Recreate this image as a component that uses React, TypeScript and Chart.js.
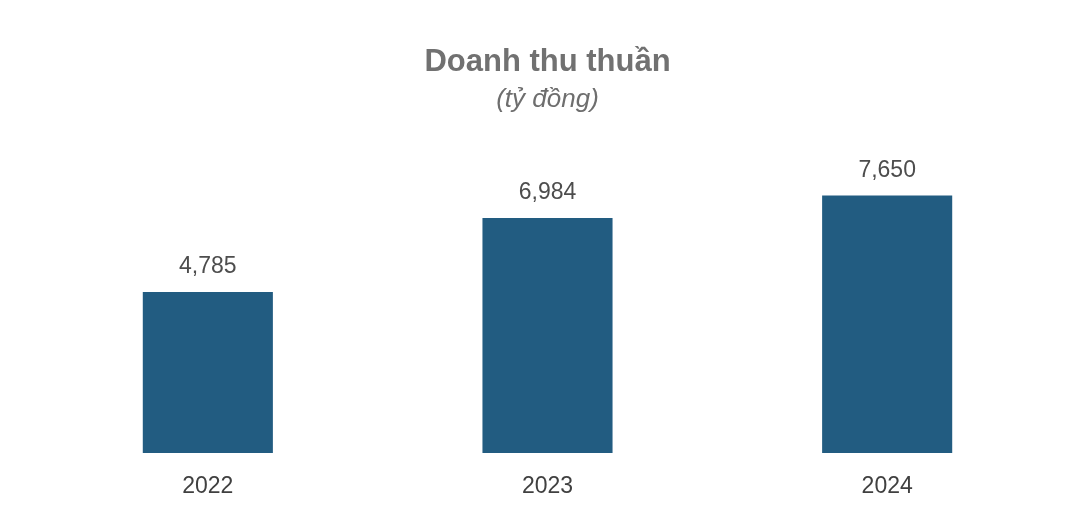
import React, { useEffect, useRef } from "react";
import { Chart, registerables } from "chart.js";

Chart.register(...registerables);

const categories = ["2022", "2023", "2024"];
const revenue = [4785, 6984, 7650];
const titleText = "Doanh thu thuần";
const subtitleText = "(tỷ đồng)";

const FONT = "'Liberation Sans', Arial, sans-serif";

const valueLabels = {
  id: "valueLabels",
  afterDatasetsDraw(chart: any) {
    const ctx = chart.ctx;
    const meta = chart.getDatasetMeta(0);
    ctx.save();
    ctx.font = `23px ${FONT}`;
    ctx.fillStyle = "#4d4d4d";
    ctx.textAlign = "center";
    ctx.textBaseline = "alphabetic";
    meta.data.forEach((bar: any, i: number) => {
      const v = chart.data.datasets[0].data[i] as number;
      ctx.fillText(v.toLocaleString("en-US"), bar.x, bar.y - 19);
    });
    ctx.restore();
  },
};

export default function App() {
  const ref = useRef<HTMLCanvasElement>(null);
  useEffect(() => {
    if (!ref.current) return;
    const chart = new Chart(ref.current, {
      type: "bar",
      data: {
        labels: categories,
        datasets: [
          {
            data: revenue,
            backgroundColor: "#225c81",
            borderWidth: 0,
            barPercentage: 0.383,
            categoryPercentage: 1,
          },
        ],
      },
      options: {
        animation: false,
        responsive: false,
        maintainAspectRatio: false,
        devicePixelRatio: 1,
        layout: { padding: { left: 38, right: 20, top: 0, bottom: 8 } },
        plugins: {
          legend: { display: false },
          tooltip: { enabled: false },
          title: {
            display: true,
            text: titleText,
            color: "#717171",
            font: { family: FONT, size: 31, weight: "bold" },
            padding: { top: 44, bottom: 0 },
          },
          subtitle: {
            display: true,
            text: subtitleText,
            color: "#6e6e6e",
            font: { family: FONT, size: 26, style: "italic" },
            padding: { top: 3, bottom: 1 },
          },
        },
        scales: {
          x: {
            grid: { display: false, drawTicks: false },
            border: { display: false },
            ticks: {
              color: "#404040",
              font: { family: FONT, size: 23 },
              padding: 20,
              maxRotation: 0,
            },
            afterFit(scale: any) {
              scale.height = 48;
            },
          },
          y: {
            display: false,
            min: 0,
            max: 10000,
          },
        },
      },
      plugins: [valueLabels],
    });
    return () => chart.destroy();
  }, []);
  return (
    <div style={{ position: "fixed", left: 0, top: 0, width: 1077, height: 509, background: "#fff" }}>
      <canvas ref={ref} width={1077} height={509} style={{ display: "block" }} />
    </div>
  );
}
